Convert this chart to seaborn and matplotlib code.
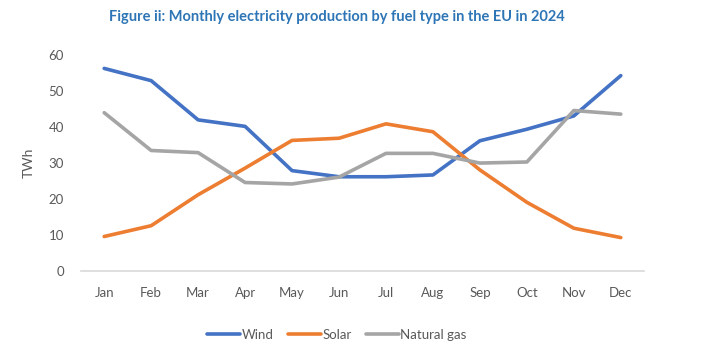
"""Monthly electricity production by fuel type in the EU, 2024."""

import matplotlib

matplotlib.use("Agg")
import matplotlib.pyplot as plt
import pandas as pd
import seaborn as sns

months = ["Jan", "Feb", "Mar", "Apr", "May", "Jun",
          "Jul", "Aug", "Sep", "Oct", "Nov", "Dec"]
wind = [56.2, 52.8, 41.9, 40.1, 27.8, 26.1, 26.1, 26.6, 36.1, 39.3, 43.0, 54.2]
solar = [9.5, 12.5, 21.1, 28.5, 36.2, 36.8, 40.8, 38.6, 28.0, 19.0, 11.8, 9.2]
gas = [43.9, 33.4, 32.8, 24.5, 24.1, 26.0, 32.6, 32.6, 29.9, 30.2, 44.5, 43.5]

series = {"Wind": wind, "Solar": solar, "Natural gas": gas}
colors = {"Wind": "#4472C4", "Solar": "#ED7D31", "Natural gas": "#A5A5A5"}

df = pd.DataFrame(
    [(m, name, v) for name, vals in series.items() for m, v in zip(months, vals)],
    columns=["month", "fuel", "twh"],
)

sns.set_theme(style="white")
plt.rcParams["font.family"] = ["Lato", "DejaVu Sans"]
text_grey = "#595959"

fig = plt.figure(figsize=(7.08, 3.5), dpi=100)
ax = fig.add_axes([0.114, 0.2266, 0.796, 0.617])

sns.lineplot(data=df, x="month", y="twh", hue="fuel", palette=colors,
             linewidth=2.6, sort=False, ax=ax)

ax.set_xlim(-0.5, len(months) - 0.5)
ax.set_ylim(0, 60)
ax.set_yticks(range(0, 61, 10))
ax.set_xlabel("")
ax.set_ylabel("TWh", color=text_grey, fontsize=10, labelpad=10)
ax.tick_params(axis="both", length=0, labelsize=9.5, labelcolor=text_grey)
ax.tick_params(axis="y", pad=12)
ax.tick_params(axis="x", pad=12)

for side in ["top", "right", "left"]:
    ax.spines[side].set_visible(False)
ax.spines["bottom"].set_color("#D9D9D9")
ax.spines["bottom"].set_linewidth(1.2)

handles, labels = ax.get_legend_handles_labels()
ax.legend(handles, labels, loc="center", bbox_to_anchor=(337 / 708, 15 / 350),
          bbox_transform=fig.transFigure, ncol=3, frameon=False,
          fontsize=9.5, labelcolor=text_grey, handlelength=2.5,
          handletextpad=0.1, columnspacing=1.1)

fig.text(337 / 708, 1 - 17 / 350,
         "Figure ii: Monthly electricity production by fuel type in the EU in 2024",
         ha="center", va="center", fontsize=10.5, fontweight="bold", color="#2E75B6")

fig.savefig("out.png", dpi=100)
